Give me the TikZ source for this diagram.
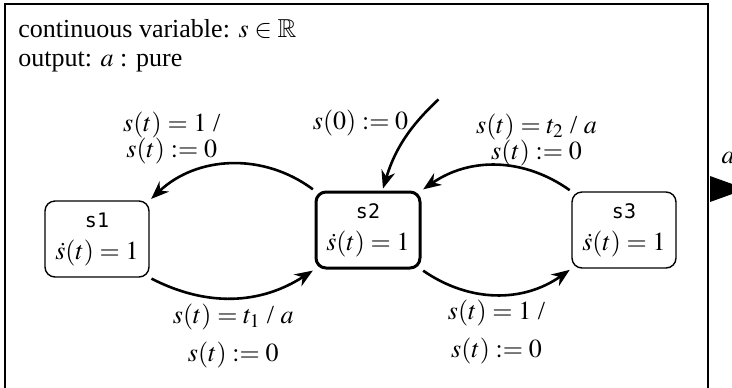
\documentclass[tikz,border=0pt]{standalone}
\usepackage{amssymb}
\usepackage{mathptmx}
\usepackage{fontspec}
\setmainfont{Liberation Serif}
\newfontfamily\statefont{DejaVu Sans Mono}
\usetikzlibrary{arrows.meta,positioning}

\begin{document}
\begin{tikzpicture}[
  x=0.5pt, y=-0.5pt,
  >={Stealth[length=9pt, width=7pt]},
  every node/.style={font=\fontsize{13}{13}\selectfont},
  state/.style={rectangle, rounded corners=5pt, draw, line width=0.7pt, minimum width=52pt, minimum height=38pt, align=center, inner sep=2pt},
  initstate/.style={state, line width=1.5pt},
  trans/.style={->, line width=1.3pt, shorten >=1pt, shorten <=1pt},
  tag/.style={align=center}
]
  \useasboundingbox (0,0) rectangle (732,387);
  \draw[line width=0.8pt] (5,4) rectangle (708,400);

  \node[anchor=base west, inner sep=0pt] (var) at (18,37) {continuous variable: $s\in\mathbb{R}$};
  \node[anchor=base west, inner sep=0pt] (outp) at (18,66) {output: $a$ : pure};

  \node[state] (s1) at (97,239) {{\statefont\fontsize{10}{10}\selectfont s1}\\[3pt]$\dot{s}(t)=1$};
  \node[initstate] (s2) at (368,230) {{\statefont\fontsize{10}{10}\selectfont s2}\\[3pt]$\dot{s}(t)=1$};
  \node[state] (s3) at (624,230) {{\statefont\fontsize{10}{10}\selectfont s3}\\[3pt]$\dot{s}(t)=1$};

  \coordinate (start) at (440,98);
  \draw[trans] (start) to[bend right=15] node[left, pos=0.3] {$s(0):=0$} (s2.70);

  \draw[trans] (s2.north west) to[bend right=40] node[tag, above left, xshift=-1pt, yshift=-4pt] {$s(t)=1$ /\\$s(t):=0$} (s1.north east);
  \draw[trans] (s1.south east) to[bend right=30] node[tag, below, yshift=1pt] {$s(t)=t_1$ / $a$\\[6pt]$s(t):=0$} (s2.south west);
  \draw[trans] (s3.north west) to[bend right=35] node[tag, above, xshift=20pt, yshift=-4pt] {$s(t)=t_2$ / $a$\\$s(t):=0$} (s2.north east);
  \draw[trans] (s2.south east) to[bend right=35] node[tag, below, yshift=1pt] {$s(t)=1$ /\\[6pt]$s(t):=0$} (s3.south west);

  % output port
  \coordinate (port) at (710,189);
  \fill (port) ++(0,-13) -- ++(36,13) -- ++(-36,13) -- cycle;
  \node (alab) at (728,158) {$a$};
\end{tikzpicture}
\end{document}
